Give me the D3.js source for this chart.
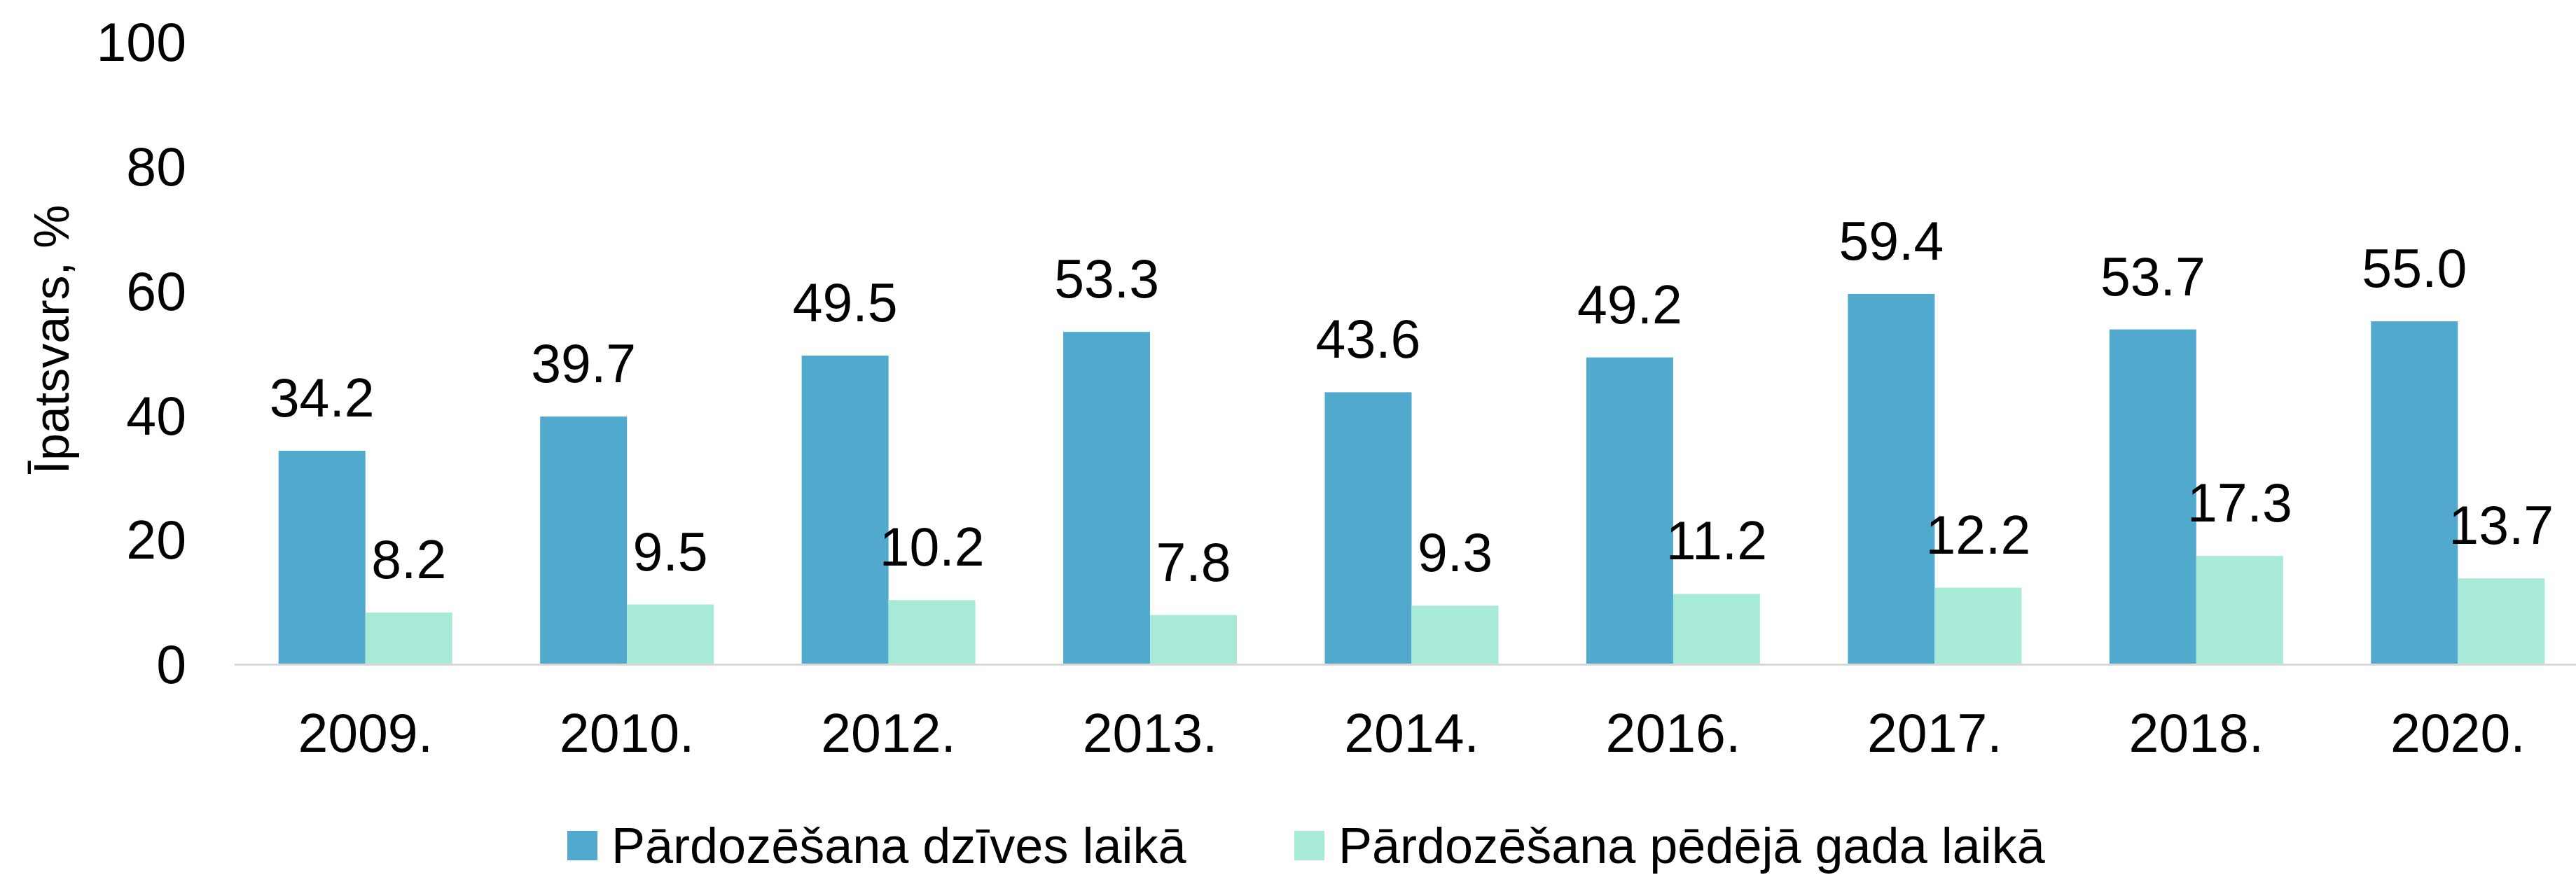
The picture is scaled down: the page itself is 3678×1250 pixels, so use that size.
<!DOCTYPE html>
<html>
<head>
<meta charset="utf-8">
<script src="https://cdn.jsdelivr.net/npm/d3@7"></script>
<style>
    html, body { margin: 0; padding: 0; background: #fff; }
    svg { display: block; font-family: "Liberation Sans", Arial, sans-serif; }
</style>
</head>
<body>
<svg id="chart"></svg>
<script>
// data
const years = ["2009.", "2010.", "2012.", "2013.", "2014.", "2016.", "2017.", "2018.", "2020."];
const seriesNames = ["Pārdozēšana dzīves laikā", "Pārdozēšana pēdējā gada laikā"];
const lifetime = [34.2, 39.7, 49.5, 53.3, 43.6, 49.2, 59.4, 53.7, 55.0];
const lastYear = [8.2, 9.5, 10.2, 7.8, 9.3, 11.2, 12.2, 17.3, 13.7];
const yTicks = [0, 20, 40, 60, 80, 100];
const yTitle = "Īpatsvars, %";

const W = 3678, H = 1250;
const colors = ["#52a9ce", "#a8ead8"];
const svg = d3.select("#chart").attr("width", W).attr("height", H);

const rows = years.map((y, i) => ({ year: y, values: [lifetime[i], lastYear[i]] }));

const x = d3.scaleBand().domain(years).range([335, 3696]).paddingInner(0.336).paddingOuter(0.168);
const xs = d3.scaleBand().domain([0, 1]).range([0, x.bandwidth()]);
const y = d3.scaleLinear().domain([0, 100]).range([948, 59]);

// y axis labels, no line
const yAxis = svg.append("g").attr("transform", "translate(266,0)")
    .call(d3.axisLeft(y).tickValues(yTicks).tickSize(0).tickPadding(0));
yAxis.select(".domain").remove();
yAxis.selectAll("text").attr("font-size", 77).attr("fill", "#000").attr("dy", "0.36em")
    .style("font-family", "'Liberation Sans', Arial, sans-serif");

// y title
svg.append("text")
    .attr("transform", "translate(98,485) rotate(-90)")
    .attr("text-anchor", "middle")
    .attr("font-size", 70)
    .attr("fill", "#000")
    .text(yTitle);

// bars
const groups = svg.append("g").selectAll("g").data(rows).join("g")
    .attr("transform", d => `translate(${x(d.year)},0)`);

groups.selectAll("rect").data(d => d.values).join("rect")
    .attr("x", (v, i) => xs(i))
    .attr("y", v => y(v))
    .attr("width", xs.bandwidth())
    .attr("height", v => y(0) - y(v))
    .attr("fill", (v, i) => colors[i]);

groups.selectAll("text").data(d => d.values).join("text")
    .attr("x", (v, i) => xs(i) + xs.bandwidth() / 2)
    .attr("y", v => y(v) - 49)
    .attr("text-anchor", "middle")
    .attr("font-size", 77)
    .attr("fill", "#000")
    .text(v => v.toFixed(1));

// x axis
const xAxis = svg.append("g").attr("transform", `translate(0,${y(0)})`)
    .call(d3.axisBottom(x).tickSize(0).tickPadding(0));
xAxis.select(".domain").remove();
xAxis.selectAll("text").attr("font-size", 77).attr("fill", "#000").attr("dy", null).attr("y", 126)
    .style("font-family", "'Liberation Sans', Arial, sans-serif");
svg.append("line")
    .attr("x1", 335).attr("x2", W)
    .attr("y1", y(0) + 1.5).attr("y2", y(0) + 1.5)
    .attr("stroke", "#d9d9d9").attr("stroke-width", 3);

// legend
const legendX = [810, 1848];
const legend = svg.append("g").selectAll("g").data(seriesNames).join("g")
    .attr("transform", (d, i) => `translate(${legendX[i]},1187)`);
legend.append("rect").attr("width", 43).attr("height", 42).attr("fill", (d, i) => colors[i]);
legend.append("text").attr("x", 63).attr("y", 46).attr("font-size", 72).attr("fill", "#000").text(d => d);
</script>
</body>
</html>
